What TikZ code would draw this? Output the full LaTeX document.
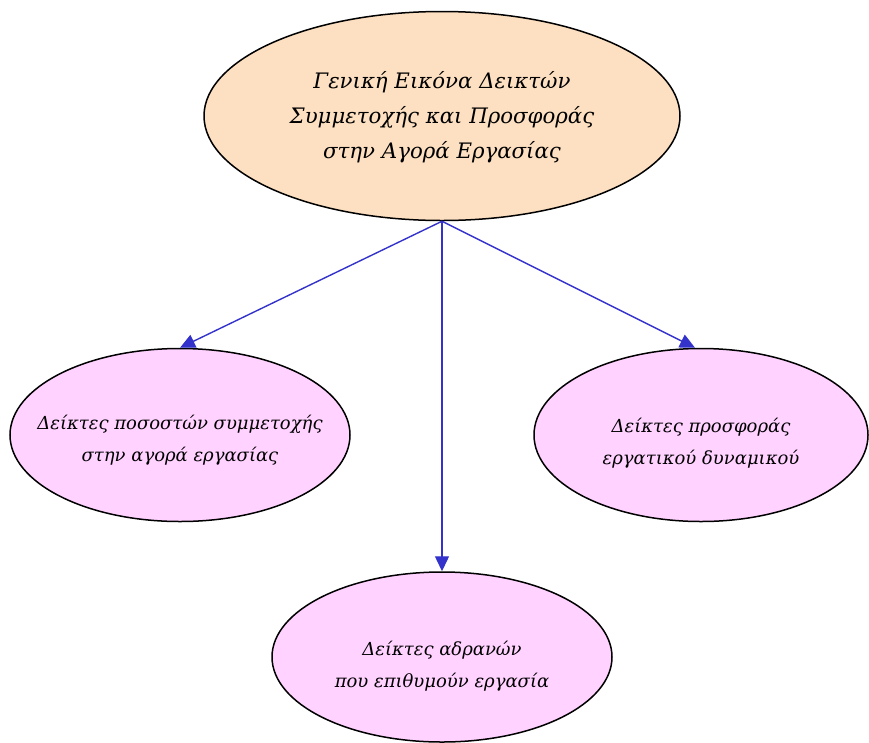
\documentclass[tikz,border=0pt]{standalone}
\usepackage{fontspec}
\setmainfont{DejaVu Serif}
\usetikzlibrary{shapes.geometric,arrows.meta}
\definecolor{peach}{RGB}{253,224,193}
\definecolor{pinkfill}{RGB}{255,210,255}
\definecolor{arrowblue}{RGB}{51,51,204}
\begin{document}
\begin{tikzpicture}[x=1pt,y=-1pt,
  ell/.style={ellipse, draw=black, line width=1.5pt, inner sep=0pt},
  topell/.style={ell, fill=peach, minimum width=476pt, minimum height=209pt},
  subell/.style={ell, fill=pinkfill, minimum width=340pt, minimum height=173pt},
  toptext/.style={align=center, inner sep=0pt, font=\itshape\fontsize{21.3}{35}\selectfont},
  subtext/.style={align=center, inner sep=0pt, font=\itshape\fontsize{18}{32}\selectfont},
  conn/.style={draw=arrowblue, line width=1.4pt, -{Triangle[length=15pt,width=14pt]}}]
\useasboundingbox (0,0) rectangle (869,742);
\node[topell] (top) at (442,116) {};
\node[toptext] (topT) at ([yshift=-1pt]top.center) {Γενική Εικόνα Δεικτών\\Συμμετοχής και Προσφοράς\\στην Αγορά Εργασίας};
\node[subell] (left) at (180,435) {};
\node[subtext] (leftT) at ([yshift=-5pt]left.center) {Δείκτες ποσοστών συμμετοχής\\στην αγορά εργασίας};
\node[subell, minimum width=334pt] (right) at (701,435) {};
\node[subtext] (rightT) at ([yshift=-8pt]right.center) {Δείκτες προσφοράς\\εργατικού δυναμικού};
\node[subell, minimum height=170pt] (bottom) at (442,657) {};
\node[subtext] (bottomT) at ([yshift=-9pt]bottom.center) {Δείκτες αδρανών\\που επιθυμούν εργασία};
\draw[conn] (top.south) -- (left.north);
\draw[conn] (top.south) -- (bottom.north);
\draw[conn] (top.south) -- ([xshift=-6pt]right.north);
\end{tikzpicture}
\end{document}
